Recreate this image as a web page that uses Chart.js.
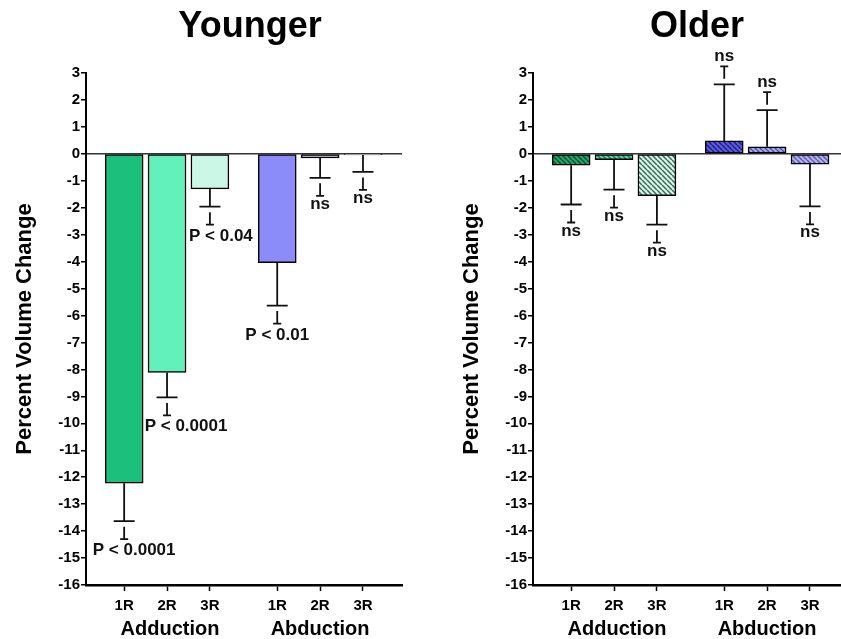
<!DOCTYPE html>
<html><head><meta charset="utf-8">
<script src="https://cdn.jsdelivr.net/npm/chart.js@4.4.1/dist/chart.umd.min.js"></script>
<style>
html,body{margin:0;padding:0;background:#fff;overflow:hidden;width:841px;height:639px;position:relative;}
.box{position:absolute;top:0;width:420px;height:639px;}
#b1{left:0}#b2{left:447px}
</style></head><body>
<div class="box" id="b1"><canvas id="c1" width="420" height="639"></canvas></div>
<div class="box" id="b2"><canvas id="c2" width="420" height="639"></canvas></div>
<script>
// ---- data ----
const groups = ['Adduction', 'Abduction'];
const repeats = ['1R', '2R', '3R'];
const yMin = -16, yMax = 3;
const youngerMeans = [-12.22, -8.11, -1.30, -4.04, -0.15, -0.04];
const youngerErr   = [1.41, 0.93, 0.66, 1.59, 0.74, 0.63];
const youngerSig   = ['P < 0.0001', 'P < 0.0001', 'P < 0.04', 'P < 0.01', 'ns', 'ns'];
const olderMeans = [-0.42, -0.22, -1.55, 0.48, 0.26, -0.38];
const olderErr   = [1.46, 1.11, 1.08, 2.10, 1.36, 1.57];
const olderSig   = ['ns', 'ns', 'ns', 'ns', 'ns', 'ns'];

// ---- layout / style ----
const FONT = "'Liberation Sans', Arial, Helvetica, sans-serif";
const groupGap = 0.57;
const slots = [];
groups.forEach((g, gi) => repeats.forEach((r, ri) => slots.push(1 + gi * (repeats.length + groupGap) + ri)));

function hatch(bg, fg) {
  const s = 5, c = document.createElement('canvas');
  c.width = c.height = s;
  const x = c.getContext('2d');
  x.fillStyle = bg; x.fillRect(0, 0, s, s);
  x.strokeStyle = fg; x.lineWidth = 1.5;
  x.beginPath();
  for (const k of [-s, 0, s]) { x.moveTo(k, 0); x.lineTo(k + s, s); }
  x.stroke();
  return x.createPattern(c, 'repeat');
}

const youngerColors = ['#1cbf7b', '#62f1bb', '#cbf7e6', '#8b8bf9', '#b8b6ee', '#d4d4f6'];
const olderColors = [
  hatch('#25a867', '#0d4f2c'),
  hatch('#5fd9a5', '#1f7a52'),
  hatch('#d9f5ea', '#3a6a58'),
  hatch('#5b5be6', '#1e1e78'),
  hatch('#a9a9ee', '#4c4c9a'),
  hatch('#b4b4f2', '#5a5aa8')
];

const errPlugin = {
  id: 'errbars',
  afterDatasetsDraw(chart, args, o) {
    const ctx = chart.ctx, ys = chart.scales.y;
    const meta = chart.getDatasetMeta(0);
    ctx.save();
    ctx.strokeStyle = '#111'; ctx.fillStyle = '#111'; ctx.lineWidth = 1.8;
    ctx.font = 'bold 17px ' + FONT;
    ctx.textAlign = 'center';
    ctx.textBaseline = 'alphabetic';
    meta.data.forEach((bar, i) => {
      const m = o.means[i], e = o.errs[i];
      const dir = m < 0 ? -1 : 1;
      const x = bar.x;
      const y0 = ys.getPixelForValue(m), y1 = ys.getPixelForValue(m + dir * e);
      const s = dir < 0 ? 1 : -1;
      const a = y1 + s * 5.5, b = y1 + s * 18;
      ctx.beginPath();
      ctx.moveTo(x, y0); ctx.lineTo(x, y1);
      ctx.moveTo(x - 10.5, y1); ctx.lineTo(x + 10.5, y1);
      ctx.moveTo(x, a); ctx.lineTo(x, b);
      ctx.moveTo(x - 4, b); ctx.lineTo(x + 4, b);
      ctx.stroke();
      const t = o.sig[i];
      const mt = ctx.measureText(t);
      const tx = x + (o.shift ? o.shift[i] : 0);
      if (s > 0) ctx.fillText(t, tx, b + 4 + mt.actualBoundingBoxAscent);
      else ctx.fillText(t, tx, b - 5);
    });
    ctx.restore();
  }
};

const textPlugin = {
  id: 'texts',
  afterDraw(chart, args, o) {
    const ctx = chart.ctx, xs = chart.scales.x, ca = chart.chartArea;
    ctx.save();
    ctx.fillStyle = '#000'; ctx.textAlign = 'center'; ctx.textBaseline = 'alphabetic';
    ctx.font = 'bold 36px ' + FONT;
    ctx.fillText(o.title, (ca.left + ca.right) / 2 + 6, 37);
    ctx.font = 'bold 20px ' + FONT;
    groups.forEach((g, gi) => {
      ctx.fillText(g, xs.getPixelForValue(slots[gi * repeats.length + 1]) + (gi === 0 ? 3 : 0), 635);
    });
    ctx.restore();
  }
};

function makeChart(id, title, means, errs, sig, colors, shift) {
  return new Chart(document.getElementById(id), {
    type: 'bar',
    data: {
      datasets: [{
        data: means.map((v, i) => ({ x: slots[i], y: v })),
        backgroundColor: colors,
        borderColor: '#000',
        borderWidth: 1.5,
        borderSkipped: false,
        barThickness: 38
      }]
    },
    options: {
      responsive: false,
      animation: false,
      devicePixelRatio: 1,
      layout: { padding: { top: 73, right: 18, bottom: 0, left: 0 } },
      plugins: {
        legend: { display: false },
        tooltip: { enabled: false },
        errbars: { means, errs, sig, shift },
        texts: { title }
      },
      scales: {
        x: {
          type: 'linear',
          min: 0.11, max: 7.48,
          offset: false,
          afterBuildTicks: s => { s.ticks = slots.map(v => ({ value: v })); },
          afterFit: s => { s.height = 54; },
          ticks: {
            autoSkip: false, maxRotation: 0, padding: 6,
            color: '#000', font: { family: FONT, size: 15, weight: 'bold' },
            callback: (v, i) => repeats[i % repeats.length]
          },
          grid: { drawOnChartArea: false, offset: false, tickLength: 6, tickWidth: 1.5, tickColor: '#000' },
          border: { color: '#000', width: 2.5 }
        },
        y: {
          min: yMin, max: yMax,
          afterFit: s => { s.width = 86; },
          ticks: {
            stepSize: 1, padding: 1,
            color: '#000', font: { family: FONT, size: 15, weight: 'bold' }
          },
          grid: {
            color: c => (c.tick && c.tick.value === 0) ? '#333' : 'rgba(0,0,0,0)',
            lineWidth: 1.5,
            tickLength: 5, tickWidth: 1.5, tickColor: '#000'
          },
          border: { color: '#000', width: 2 },
          title: {
            display: true, text: 'Percent Volume Change', color: '#000',
            font: { family: FONT, size: 22, weight: 'bold' },
            padding: { top: 12, bottom: 0 }
          }
        }
      }
    },
    plugins: [errPlugin, textPlugin]
  });
}

makeChart('c1', 'Younger', youngerMeans, youngerErr, youngerSig, youngerColors, [10, 19, 11, 0, 0, 0]);
makeChart('c2', 'Older', olderMeans, olderErr, olderSig, olderColors, null);
</script>
</body></html>
